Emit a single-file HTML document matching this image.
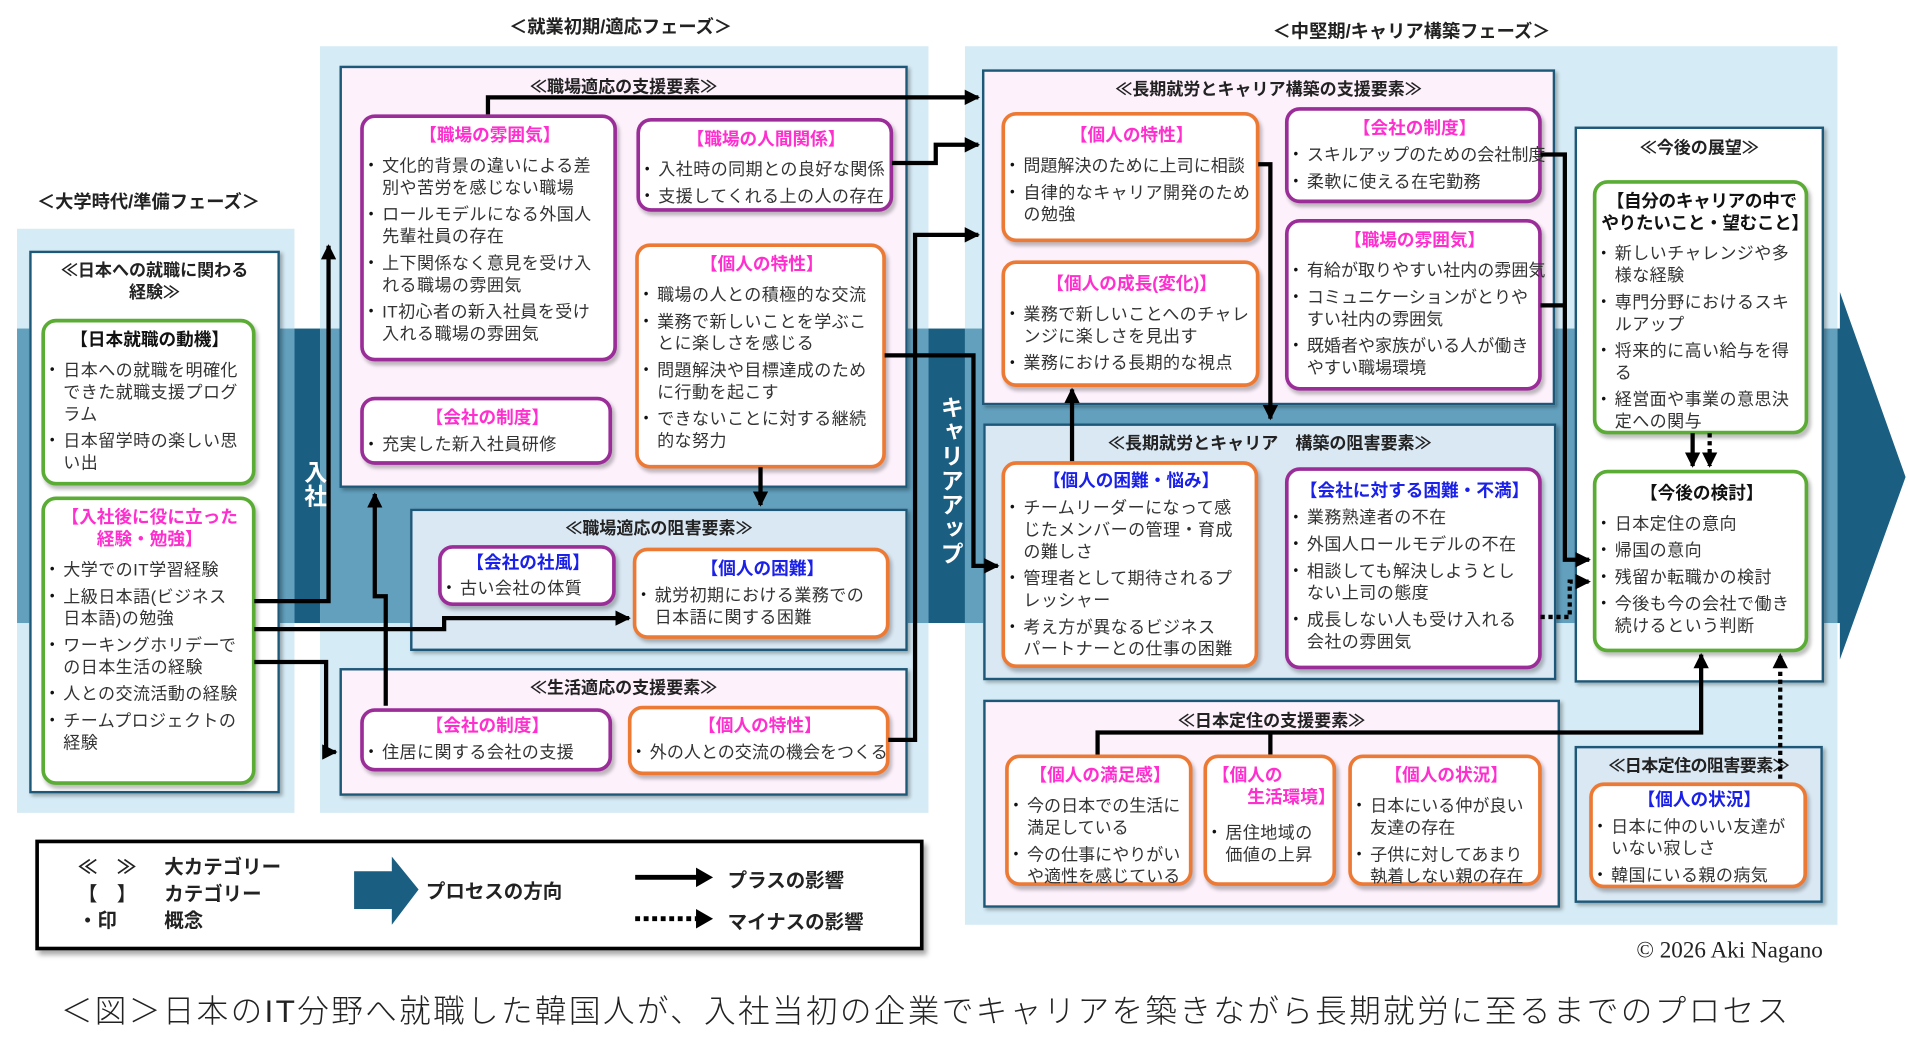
<!DOCTYPE html>
<html><head><meta charset="utf-8">
<style>
html,body{margin:0;padding:0;background:#fff;width:1908px;height:1053px;overflow:hidden}
#c{position:absolute;left:0;top:0;width:1568px;height:866px;transform:scale(1.21684);transform-origin:0 0;font-family:"Liberation Sans","Noto Sans CJK JP",sans-serif;color:#222}
.a{position:absolute}
.bg{position:absolute;background:#d5ebf5}
.mid{position:absolute;background:#62a0be}
.ph{position:absolute;font-size:15px;font-weight:bold;white-space:nowrap;transform:translateX(-50%)}
.pn{position:absolute;box-sizing:border-box;border:2px solid #1e5878;box-shadow:2px 2px 3px rgba(0,0,0,.3)}
.pk{background:#fdf1fc}.lb{background:#dae8f4}.wh{background:#fff}
.pt{position:absolute;left:0;right:0;text-align:center;font-weight:bold;font-size:14px;white-space:nowrap}
.box{position:absolute;box-sizing:border-box;background:#fff;border:3px solid;border-radius:12px;box-shadow:2px 3px 3px rgba(0,0,0,.25);font-size:14px;letter-spacing:.35px;line-height:18px;color:#333;padding:6px 2px 3px 4px;white-space:nowrap}
.p{border-color:#9b2d99}.o{border-color:#ec7a35}.g{border-color:#5aac35}
.tt{text-align:center;font-weight:bold;font-size:14.5px;margin-bottom:6px;letter-spacing:0;color:#111}
.m{color:#ff2fcf}.bl{color:#1a20e8}
.li{position:relative;padding-left:11px;margin-bottom:4px}
.li:before{content:"•";position:absolute;left:0;top:0;font-size:11px;color:#111}
.vt{position:absolute;writing-mode:vertical-rl;color:#fff;font-weight:bold;font-size:19px;letter-spacing:1px}
</style></head><body><div id="c">

<div class="ph" style="left:510px;top:11px">＜就業初期/適応フェーズ＞</div>
<div class="ph" style="left:1160px;top:15px">＜中堅期/キャリア構築フェーズ＞</div>
<div class="ph" style="left:122px;top:155px">＜大学時代/準備フェーズ＞</div>

<div class="a" style="left:230px;top:270px;width:1284px;height:242px;background:#1a5e81"></div>
<svg class="a" style="left:0;top:0" width="1568" height="866"><polygon points="1512,240 1566,392 1512,542" fill="#1a5e81"/></svg>

<div class="bg" style="left:14px;top:188px;width:228px;height:480px"></div>
<div class="mid" style="left:14px;top:270px;width:228px;height:242px"></div>
<div class="bg" style="left:263px;top:38px;width:500px;height:630px"></div>
<div class="mid" style="left:263px;top:270px;width:500px;height:242px"></div>
<div class="bg" style="left:793px;top:38px;width:717px;height:722px"></div>
<div class="mid" style="left:793px;top:270px;width:717px;height:242px"></div>

<div class="vt" style="left:244px;top:378px">入社</div>
<div class="vt" style="left:767px;top:325px">キャリアアップ</div>

<div class="pn wh" style="left:24px;top:206px;width:206px;height:446px">
 <div class="pt" style="top:5px;line-height:18px">≪日本への就職に関わる<br>経験≫</div>
</div>
<div class="box g" style="left:34px;top:262px;width:176px;height:137px">
 <div class="tt">【日本就職の動機】</div>
 <div class="li">日本への就職を明確化<br>できた就職支援プログ<br>ラム</div>
 <div class="li">日本留学時の楽しい思<br>い出</div>
</div>
<div class="box g" style="left:34px;top:408px;width:176px;height:237px">
 <div class="tt m" style="line-height:18px">【入社後に役に立った<br>経験・勉強】</div>
 <div class="li">大学でのIT学習経験</div>
 <div class="li">上級日本語(ビジネス<br>日本語)の勉強</div>
 <div class="li">ワーキングホリデーで<br>の日本生活の経験</div>
 <div class="li">人との交流活動の経験</div>
 <div class="li">チームプロジェクトの<br>経験</div>
</div>

<div class="pn pk" style="left:279px;top:54px;width:467px;height:347px"><div class="pt" style="top:5px">≪職場適応の支援要素≫</div></div>
<div class="box p" style="left:296px;top:94px;width:211px;height:203px">
 <div class="tt m">【職場の雰囲気】</div>
 <div class="li">文化的背景の違いによる差<br>別や苦労を感じない職場</div>
 <div class="li">ロールモデルになる外国人<br>先輩社員の存在</div>
 <div class="li">上下関係なく意見を受け入<br>れる職場の雰囲気</div>
 <div class="li">IT初心者の新入社員を受け<br>入れる職場の雰囲気</div>
</div>
<div class="box p" style="left:523px;top:97px;width:211px;height:77px">
 <div class="tt m">【職場の人間関係】</div>
 <div class="li">入社時の同期との良好な関係</div>
 <div class="li">支援してくれる上の人の存在</div>
</div>
<div class="box o" style="left:522px;top:200px;width:206px;height:185px">
 <div class="tt m">【個人の特性】</div>
 <div class="li">職場の人との積極的な交流</div>
 <div class="li">業務で新しいことを学ぶこ<br>とに楽しさを感じる</div>
 <div class="li">問題解決や目標達成のため<br>に行動を起こす</div>
 <div class="li">できないことに対する継続<br>的な努力</div>
</div>
<div class="box p" style="left:296px;top:326px;width:207px;height:56px">
 <div class="tt m" style="margin-bottom:3px">【会社の制度】</div>
 <div class="li">充実した新入社員研修</div>
</div>

<div class="pn lb" style="left:337px;top:418px;width:409px;height:117px"><div class="pt" style="top:4px">≪職場適応の阻害要素≫</div></div>
<div class="box p" style="left:360px;top:448px;width:146px;height:50px;padding-top:3px">
 <div class="tt bl" style="margin-bottom:2px">【会社の社風】</div>
 <div class="li">古い会社の体質</div>
</div>
<div class="box o" style="left:520px;top:450px;width:211px;height:75px">
 <div class="tt bl" style="margin-bottom:3px">【個人の困難】</div>
 <div class="li">就労初期における業務での<br>日本語に関する困難</div>
</div>

<div class="pn pk" style="left:279px;top:549px;width:467px;height:105px"><div class="pt" style="top:4px">≪生活適応の支援要素≫</div></div>
<div class="box p" style="left:296px;top:582px;width:207px;height:52px;padding-top:3px">
 <div class="tt m" style="margin-bottom:3px">【会社の制度】</div>
 <div class="li">住居に関する会社の支援</div>
</div>
<div class="box o" style="left:516px;top:580px;width:215px;height:57px;padding-top:5px">
 <div class="tt m" style="margin-bottom:3px">【個人の特性】</div>
 <div class="li" style="letter-spacing:0">外の人との交流の機会をつくる</div>
</div>

<div class="pn pk" style="left:807px;top:57px;width:471px;height:276px"><div class="pt" style="top:4px">≪長期就労とキャリア構築の支援要素≫</div></div>
<div class="box o" style="left:823px;top:92px;width:212px;height:107px;padding-top:8px">
 <div class="tt m">【個人の特性】</div>
 <div class="li" style="letter-spacing:0">問題解決のために上司に相談</div>
 <div class="li">自律的なキャリア開発のため<br>の勉強</div>
</div>
<div class="box p" style="left:1056px;top:88px;width:211px;height:79px">
 <div class="tt m" style="margin-bottom:3px">【会社の制度】</div>
 <div class="li" style="letter-spacing:0">スキルアップのための会社制度</div>
 <div class="li">柔軟に使える在宅勤務</div>
</div>
<div class="box o" style="left:823px;top:214px;width:212px;height:104px;padding-top:8px">
 <div class="tt m">【個人の成長(変化)】</div>
 <div class="li">業務で新しいことへのチャレ<br>ンジに楽しさを見出す</div>
 <div class="li">業務における長期的な視点</div>
</div>
<div class="box p" style="left:1056px;top:180px;width:211px;height:141px">
 <div class="tt m">【職場の雰囲気】</div>
 <div class="li" style="letter-spacing:0">有給が取りやすい社内の雰囲気</div>
 <div class="li" style="letter-spacing:0">コミュニケーションがとりや<br>すい社内の雰囲気</div>
 <div class="li" style="letter-spacing:0">既婚者や家族がいる人が働き<br>やすい職場環境</div>
</div>

<div class="pn lb" style="left:808px;top:348px;width:471px;height:211px"><div class="pt" style="top:4px">≪長期就労とキャリア　構築の阻害要素≫</div></div>
<div class="box o" style="left:823px;top:379px;width:211px;height:170px;padding-top:5px">
 <div class="tt bl" style="margin-bottom:3px">【個人の困難・悩み】</div>
 <div class="li">チームリーダーになって感<br>じたメンバーの管理・育成<br>の難しさ</div>
 <div class="li">管理者として期待されるプ<br>レッシャー</div>
 <div class="li">考え方が異なるビジネス<br>パートナーとの仕事の困難</div>
</div>
<div class="box p" style="left:1056px;top:384px;width:211px;height:166px;padding-top:8px">
 <div class="tt bl" style="margin-bottom:3px">【会社に対する困難・不満】</div>
 <div class="li">業務熟達者の不在</div>
 <div class="li">外国人ロールモデルの不在</div>
 <div class="li">相談しても解決しようとし<br>ない上司の態度</div>
 <div class="li">成長しない人も受け入れる<br>会社の雰囲気</div>
</div>

<div class="pn wh" style="left:1294px;top:104px;width:205px;height:457px"><div class="pt" style="top:5px">≪今後の展望≫</div></div>
<div class="box g" style="left:1309px;top:148px;width:177px;height:209px">
 <div class="tt" style="line-height:18px;letter-spacing:-.3px">【自分のキャリアの中で<br>やりたいこと・望むこと】</div>
 <div class="li">新しいチャレンジや多<br>様な経験</div>
 <div class="li">専門分野におけるスキ<br>ルアップ</div>
 <div class="li">将来的に高い給与を得<br>る</div>
 <div class="li">経営面や事業の意思決<br>定への関与</div>
</div>
<div class="box g" style="left:1309px;top:386px;width:177px;height:150px;padding-top:8px">
 <div class="tt">【今後の検討】</div>
 <div class="li">日本定住の意向</div>
 <div class="li">帰国の意向</div>
 <div class="li">残留か転職かの検討</div>
 <div class="li">今後も今の会社で働き<br>続けるという判断</div>
</div>

<div class="pn pk" style="left:808px;top:575px;width:474px;height:171px"><div class="pt" style="top:5px">≪日本定住の支援要素≫</div></div>
<div class="box o" style="left:826px;top:620px;width:154px;height:108px">
 <div class="tt m">【個人の満足感】</div>
 <div class="li" style="letter-spacing:0">今の日本での生活に<br>満足している</div>
 <div class="li" style="letter-spacing:0">今の仕事にやりがい<br>や適性を感じている</div>
</div>
<div class="box o" style="left:989px;top:620px;width:109px;height:108px">
 <div class="tt m" style="text-align:left;line-height:18px;margin-bottom:10px">【個人の<br>　　生活環境】</div>
 <div class="li">居住地域の<br>価値の上昇</div>
</div>
<div class="box o" style="left:1108px;top:620px;width:159px;height:108px">
 <div class="tt m">【個人の状況】</div>
 <div class="li" style="letter-spacing:0">日本にいる仲が良い<br>友達の存在</div>
 <div class="li" style="letter-spacing:0">子供に対してあまり<br>執着しない親の存在</div>
</div>

<div class="pn lb" style="left:1294px;top:613px;width:204px;height:129px"><div class="pt" style="top:4px;letter-spacing:-.5px">≪日本定住の阻害要素≫</div></div>
<div class="box o" style="left:1306px;top:643px;width:179px;height:87px;padding-top:3px">
 <div class="tt bl" style="margin-bottom:3px">【個人の状況】</div>
 <div class="li">日本に仲のいい友達が<br>いない寂しさ</div>
 <div class="li">韓国にいる親の病気</div>
</div>

<svg class="a" style="left:0;top:0" width="1568" height="866">
<defs><marker id="ar" markerWidth="3.6" markerHeight="3.6" refX="3.2" refY="1.8" orient="auto" markerUnits="strokeWidth"><path d="M0,0 L3.6,1.8 L0,3.6z" fill="#000"/></marker></defs>
<g fill="none" stroke="#000" stroke-width="3.5" stroke-linejoin="miter">
<polyline points="401,94 401,80 804,80" marker-end="url(#ar)"/>
<polyline points="733,134 769,134 769,119 804,119" marker-end="url(#ar)"/>
<polyline points="727,292 800,292 800,465 820,465" marker-end="url(#ar)"/>
<polyline points="730,608 752,608 752,193 804,193" marker-end="url(#ar)"/>
<polyline points="625,384 625,415" marker-end="url(#ar)"/>
<polyline points="209,494 270,494 270,202" marker-end="url(#ar)"/>
<polyline points="209,517 365,517 365,508 517,508" marker-end="url(#ar)"/>
<polyline points="209,544 268,544 268,618 276,618" marker-end="url(#ar)"/>
<polyline points="317,580 317,490 308,490 308,406" marker-end="url(#ar)"/>
<polyline points="1034,135 1044,135 1044,344" marker-end="url(#ar)"/>
<polyline points="881,379 881,320" marker-end="url(#ar)"/>
<polyline points="1266,127 1286,127 1286,460 1306,460" marker-end="url(#ar)"/>
<polyline points="1266,251 1286,251"/>
<polyline points="1391,356 1391,383" marker-end="url(#ar)"/>
<polyline points="902,620 902,602 1398,602 1398,538" marker-end="url(#ar)"/>
<polyline points="1044,620 1044,602"/>
<g stroke-dasharray="3.5,3">
<polyline points="1266,507 1290,507 1290,478 1306,478" marker-end="url(#ar)"/>
<polyline points="1405,356 1405,383" marker-end="url(#ar)"/>
<polyline points="1463,640 1463,538" marker-end="url(#ar)"/>
</g>
</g>
</svg>

<div class="a" style="left:29px;top:690px;width:730px;height:91px;box-sizing:border-box;border:3px solid #000;background:#fff;box-shadow:3px 4px 4px rgba(0,0,0,.35)"></div>
<div class="a" style="left:64px;top:703px;font-size:16px;font-weight:bold;line-height:22px;white-space:nowrap">≪　≫<br>【　】<br>・印</div>
<div class="a" style="left:135px;top:703px;font-size:16px;font-weight:bold;line-height:22px;white-space:nowrap">大カテゴリー<br>カテゴリー<br>概念</div>
<svg class="a" style="left:0;top:0" width="1568" height="866">
<polygon points="291,716 322,716 322,704 344,731 322,760 322,747 291,747" fill="#1a5e81"/>
<line x1="522" y1="721" x2="574" y2="721" stroke="#000" stroke-width="4"/>
<polygon points="572,713 586,721 572,729" fill="#000"/>
<line x1="522" y1="755" x2="572" y2="755" stroke="#000" stroke-width="4" stroke-dasharray="4,3"/>
<polygon points="572,747 586,755 572,763" fill="#000"/>
</svg>
<div class="a" style="left:350px;top:719px;font-size:16px;font-weight:bold;white-space:nowrap">プロセスの方向</div>
<div class="a" style="left:598px;top:710px;font-size:16px;font-weight:bold;white-space:nowrap">プラスの影響</div>
<div class="a" style="left:598px;top:744px;font-size:16px;font-weight:bold;white-space:nowrap">マイナスの影響</div>

<div class="a" style="left:1318px;top:771px;width:180px;text-align:right;font-family:'Liberation Serif',serif;font-size:19px;white-space:nowrap">© 2026 Aki Nagano</div>
<div class="a" style="left:50px;top:811px;font-size:26px;letter-spacing:1.9px;white-space:nowrap;color:#222;font-weight:300">＜図＞日本のIT分野へ就職した韓国人が、入社当初の企業でキャリアを築きながら長期就労に至るまでのプロセス</div>

</div></body></html>
